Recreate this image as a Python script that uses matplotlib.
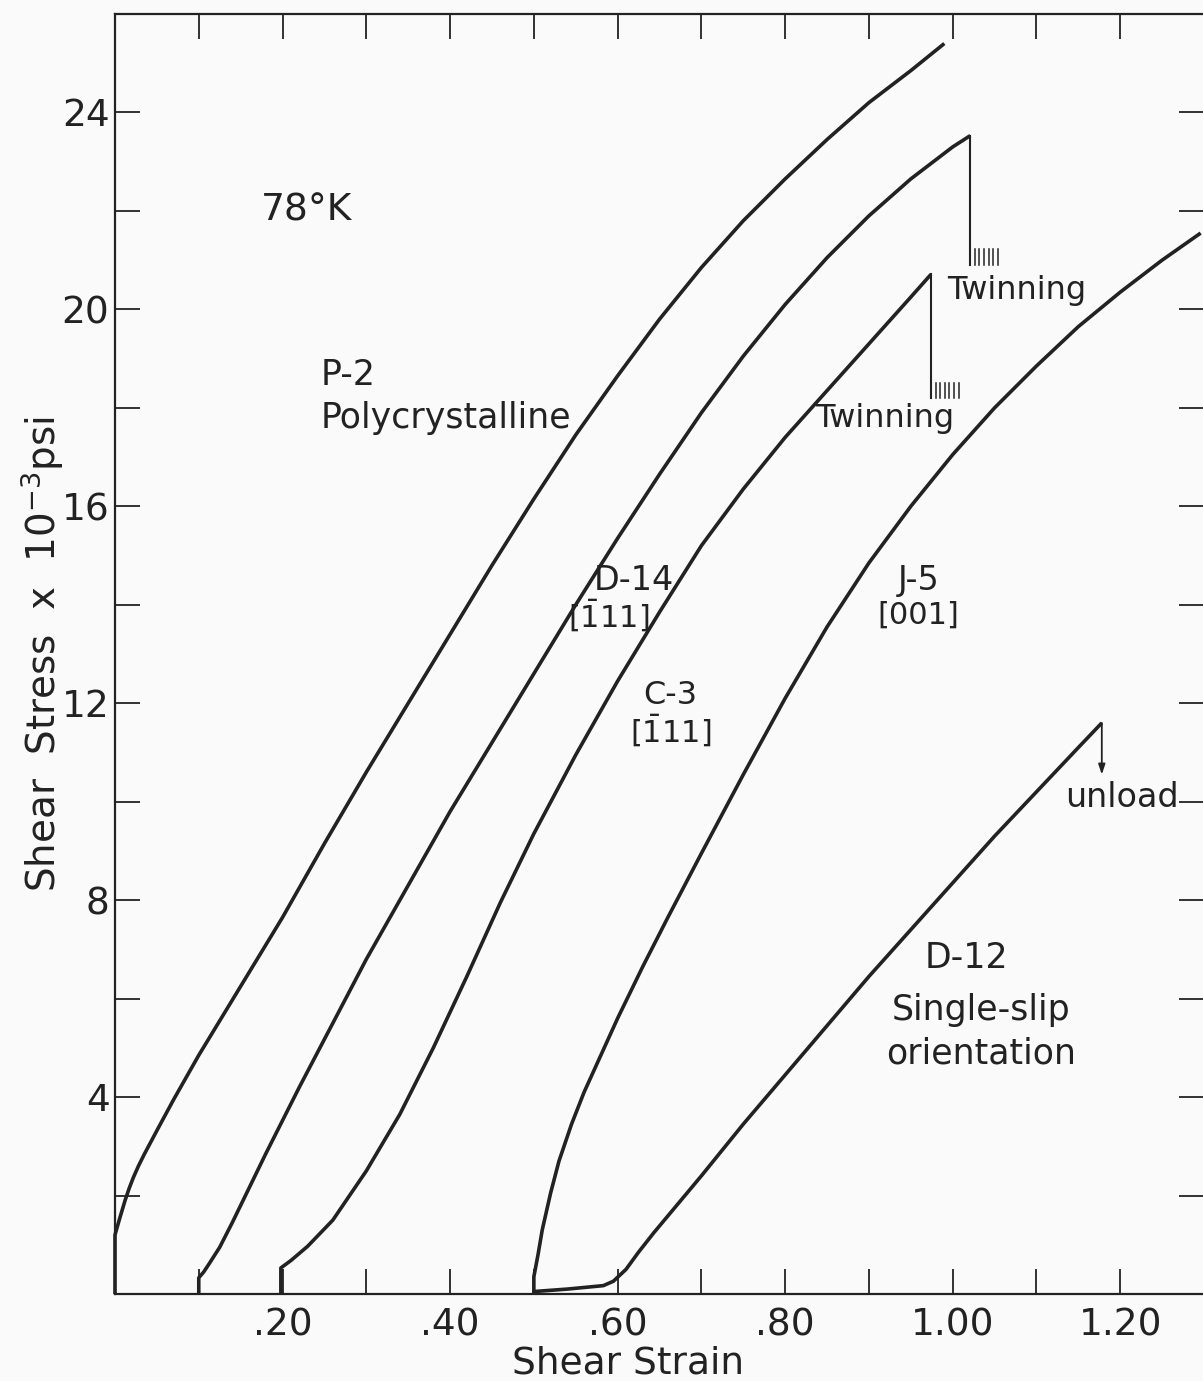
import numpy as np
import matplotlib
matplotlib.use("Agg")
import matplotlib.pyplot as plt
from matplotlib.ticker import FixedLocator, FixedFormatter

# stress-strain curves at 78 K (strain, stress x 10^-3 psi)
p2_strain = [0, 0, 0.005, 0.012, 0.017, 0.022, 0.028, 0.035, 0.05, 0.07, 0.1, 0.15, 0.2, 0.25, 0.3,
             0.35, 0.4, 0.45, 0.5, 0.55, 0.6, 0.65, 0.7, 0.75, 0.8, 0.85, 0.9, 0.95, 0.99]
p2_stress = [0, 1.2, 1.5, 1.9, 2.15, 2.37, 2.6, 2.84, 3.32, 3.95, 4.85, 6.25, 7.65, 9.15, 10.6,
             12.0, 13.4, 14.8, 16.15, 17.45, 18.65, 19.8, 20.85, 21.8, 22.65, 23.45, 24.2, 24.85, 25.4]

d14_strain = [0.1, 0.1, 0.106, 0.113, 0.125, 0.14, 0.18, 0.22, 0.26, 0.3, 0.35, 0.4, 0.45,
              0.5, 0.55, 0.6, 0.65, 0.7, 0.75, 0.8, 0.85, 0.9, 0.95, 1.0, 1.021]
d14_stress = [0, 0.33, 0.45, 0.63, 0.95, 1.45, 2.85, 4.2, 5.5, 6.8, 8.3, 9.8, 11.2,
              12.6, 14.0, 15.35, 16.65, 17.9, 19.05, 20.1, 21.05, 21.9, 22.65, 23.3, 23.53]
d14_drop_to = 20.9

c3_strain = [0.198, 0.198, 0.21, 0.23, 0.26, 0.3, 0.34, 0.38, 0.42, 0.46, 0.5, 0.55,
             0.6, 0.65, 0.7, 0.75, 0.8, 0.85, 0.9, 0.95, 0.974]
c3_stress = [0, 0.53, 0.68, 0.97, 1.5, 2.5, 3.65, 5.0, 6.45, 7.95, 9.35, 10.95,
             12.45, 13.85, 15.2, 16.35, 17.4, 18.35, 19.3, 20.25, 20.71]
c3_drop_to = 18.19

j5_strain = [0.5, 0.5, 0.505, 0.51, 0.52, 0.53, 0.545, 0.56, 0.58, 0.6, 0.63, 0.66, 0.7,
             0.75, 0.8, 0.85, 0.9, 0.95, 1.0, 1.05, 1.1, 1.15, 1.2, 1.25, 1.296]
j5_stress = [0, 0.35, 0.8, 1.3, 2.05, 2.7, 3.45, 4.1, 4.85, 5.6, 6.65, 7.65, 8.95,
             10.55, 12.1, 13.55, 14.85, 16.0, 17.05, 18.0, 18.85, 19.65, 20.35, 21.0, 21.55]

d12_strain = [0.5, 0.54, 0.583, 0.595, 0.61, 0.625, 0.643, 0.7, 0.75, 0.8, 0.85, 0.9,
              0.95, 1.0, 1.05, 1.1, 1.15, 1.178]
d12_stress = [0.05, 0.1, 0.17, 0.26, 0.5, 0.85, 1.24, 2.4, 3.45, 4.45, 5.45, 6.45,
              7.4, 8.35, 9.3, 10.2, 11.1, 11.6]
d12_unload_to = 10.55

x_ticks = [0.1, 0.2, 0.3, 0.4, 0.5, 0.6, 0.7, 0.8, 0.9, 1.0, 1.1, 1.2]
x_labels = ["", ".20", "", ".40", "", ".60", "", ".80", "", "1.00", "", "1.20"]
y_ticks = [2, 4, 6, 8, 10, 12, 14, 16, 18, 20, 22, 24]
y_labels = ["", "4", "", "8", "", "12", "", "16", "", "20", "", "24"]

ink = "#222222"
bg = "#fbfafa"
plt.rcParams["font.family"] = ["DejaVu Sans"]
plt.rcParams["mathtext.fontset"] = "dejavusans"

fig = plt.figure(figsize=(12.03, 13.81), dpi=100, facecolor=bg)
ax = fig.add_axes([115 / 1203, 87 / 1381, 1089 / 1203, 1280 / 1381])
ax.set_facecolor(bg)

for xs, ys in [(p2_strain, p2_stress), (d14_strain, d14_stress), (c3_strain, c3_stress),
               (j5_strain, j5_stress), (d12_strain, d12_stress)]:
    ax.plot(xs, ys, color=ink, lw=2.6, solid_joinstyle="round", solid_capstyle="butt",
            clip_on=False)

# twinning drop: thin vertical + short hatch marks
for xs, ys, bot in [(d14_strain, d14_stress, d14_drop_to), (c3_strain, c3_stress, c3_drop_to)]:
    x0, top = xs[-1], ys[-1]
    ax.plot([x0, x0], [top, bot], color=ink, lw=1.5)
    for k in range(1, 7):
        ax.plot([x0 + 0.0055 * k] * 2, [bot, bot + 0.32], color=ink, lw=1.1)

# unload arrow
ax.annotate("", xy=(d12_strain[-1], d12_unload_to), xytext=(d12_strain[-1], d12_stress[-1]),
            arrowprops=dict(arrowstyle="-|>,head_length=0.6,head_width=0.2", color=ink, lw=1.3,
                            shrinkA=0, shrinkB=0))

ax.set_xlim(0, 1.3)
ax.set_ylim(0, 26)
ax.xaxis.set_major_locator(FixedLocator(x_ticks))
ax.xaxis.set_major_formatter(FixedFormatter(x_labels))
ax.yaxis.set_major_locator(FixedLocator(y_ticks))
ax.yaxis.set_major_formatter(FixedFormatter(y_labels))
ax.tick_params(axis="both", direction="in", length=18, width=1.3, color=ink,
               labelcolor=ink, labelsize=27, top=True, right=True)
ax.tick_params(axis="x", pad=10)
ax.tick_params(axis="y", pad=4)
for s in ["left", "bottom", "top"]:
    ax.spines[s].set_linewidth(1.6)
    ax.spines[s].set_color(ink)
ax.spines["right"].set_visible(False)

ax.set_xlabel("Shear Strain", fontsize=27, color=ink, va="baseline")
ax.xaxis.set_label_coords(0.471, -0.0625)
ax.set_ylabel("Shear  Stress  x  10$^{-3}$psi", fontsize=28, color=ink)
ax.yaxis.set_label_coords(-0.045, 0.5)

txt = dict(color=ink, va="center")
ax.text(0.229, 22.0, "78°K", fontsize=27, ha="center", **txt)
ax.text(0.245, 18.66, "P-2", fontsize=25, ha="left", **txt)
ax.text(0.245, 17.79, "Polycrystalline", fontsize=25, ha="left", **txt)
ax.text(0.62, 14.5, "D-14", fontsize=24, ha="center", **txt)
ax.text(0.589, 13.79, r"[$\bar{1}$11]", fontsize=22, ha="center", **txt)
ax.text(0.663, 12.16, "C-3", fontsize=23, ha="center", **txt)
ax.text(0.663, 11.45, r"[$\bar{1}$11]", fontsize=22, ha="center", **txt)
ax.text(0.959, 14.5, "J-5", fontsize=24, ha="center", **txt)
ax.text(0.959, 13.79, "[001]", fontsize=22, ha="center", **txt)
ax.text(0.993, 20.39, "Twinning", fontsize=23, ha="left", **txt)
ax.text(0.836, 17.79, "Twinning", fontsize=23, ha="left", **txt)
ax.text(1.134, 10.09, "unload", fontsize=24, ha="left", **txt)
ax.text(1.017, 6.82, "D-12", fontsize=25, ha="center", **txt)
ax.text(1.034, 5.77, "Single-slip", fontsize=25, ha="center", **txt)
ax.text(1.034, 4.89, "orientation", fontsize=25, ha="center", **txt)

fig.savefig("out.png", dpi=100, facecolor=bg)
